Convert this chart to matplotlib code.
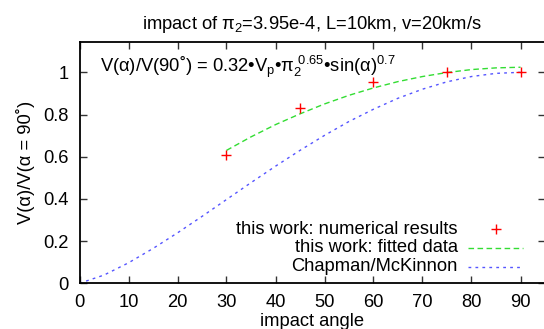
import matplotlib
matplotlib.use("Agg")
import matplotlib.pyplot as plt
from matplotlib.lines import Line2D

plt.rcParams['font.family'] = ['Liberation Sans', 'DejaVu Sans']
plt.rcParams['mathtext.fontset'] = 'custom'
plt.rcParams['mathtext.rm'] = 'Liberation Sans'
plt.rcParams['mathtext.it'] = 'Liberation Sans'
plt.rcParams['mathtext.bf'] = 'Liberation Sans'

# numerical results
num_angle = [30, 45, 60, 75, 90]
num_value = [0.607, 0.830, 0.953, 1.000, 1.000]

# fitted data
fit_angle = [30, 35, 40, 45, 50, 55, 60, 65, 70, 75, 80, 85, 90]
fit_value = [0.630, 0.694, 0.752, 0.803, 0.850, 0.891, 0.926, 0.956, 0.980, 0.999, 1.013, 1.021, 1.024]

# Chapman/McKinnon
cm_angle = [0, 5, 10, 15, 20, 25, 30, 35, 40, 45, 50, 55, 60, 65, 70, 75, 80, 85, 90]
cm_value = [0.0, 0.039, 0.097, 0.165, 0.239, 0.317, 0.397, 0.477, 0.555, 0.630, 0.701,
            0.767, 0.825, 0.877, 0.920, 0.955, 0.980, 0.995, 1.000]

xticks = [0, 10, 20, 30, 40, 50, 60, 70, 80, 90]
yticks = [0, 0.2, 0.4, 0.6, 0.8, 1]
ytick_labels = ['0', '0.2', '0.4', '0.6', '0.8', '1']

W, H = 544, 329
fig = plt.figure(figsize=(W / 100, H / 100), dpi=100)
ax = fig.add_axes([79.5 / W, 1 - 283.3 / H, (545 - 79.5) / W, (283.3 - 41.5) / H])

fs = 13.2
ax.plot(num_angle, num_value, linestyle='none', marker='+', color='#ff0000',
        markersize=7, markeredgewidth=1.0, clip_on=False, zorder=5)
ax.plot(fit_angle, fit_value, color='#33dd33', lw=1.0, dashes=(4, 2.5))
ax.plot(cm_angle, cm_value, color='#5555ff', lw=1.0, dashes=(2, 3))

ax.set_xlim(0, 95)
ax.set_ylim(0, 1.146)
ax.set_xticks(xticks)
ax.set_xticklabels([str(v) for v in xticks])
ax.set_yticks(yticks)
ax.set_yticklabels(ytick_labels)
ax.tick_params(direction='in', length=5, width=1.0, color='#333333', labelsize=fs,
               top=True, right=True)
ax.tick_params(axis='x', pad=8)
ax.tick_params(axis='y', pad=8)
for s in ax.spines.values():
    s.set_linewidth(1.3)

ax.set_xlabel('impact angle', fontsize=fs, labelpad=1)
ax.set_ylabel('V(α)/V(α = 90˚)', fontsize=fs, labelpad=6)
ax.set_title(r'impact of $\pi_2$=3.95e-4, L=10km, v=20km/s', fontsize=fs, pad=9)

fig.text(100 / W, 1 - 67 / H,
         r'V($\alpha$)/V(90˚) = 0.32•V$_\mathrm{p}$•$\pi_2^{\ 0.65}$•sin($\alpha$)$^{0.7}$',
         fontsize=fs, va='center', ha='left')

# legend, gnuplot style
labels = ['this work: numerical results', 'this work: fitted data', 'Chapman/McKinnon']
rows_y = [229.3, 247.7, 266.7]
for lab, yy in zip(labels, rows_y):
    fig.text(458 / W, 1 - yy / H, lab, fontsize=fs, ha='right', va='center')
fig.add_artist(Line2D([496 / W], [1 - rows_y[0] / H], transform=fig.transFigure,
                      marker='+', color='#ff0000', markersize=7, markeredgewidth=1.0, linestyle='none'))
fig.add_artist(Line2D([468 / W, 523 / W], [1 - rows_y[1] / H] * 2, transform=fig.transFigure,
                      color='#33dd33', lw=1.0, dashes=(4, 2.5)))
fig.add_artist(Line2D([468 / W, 523 / W], [1 - rows_y[2] / H] * 2, transform=fig.transFigure,
                      color='#5555ff', lw=1.0, dashes=(2, 3)))

fig.savefig('out.png', dpi=100)
